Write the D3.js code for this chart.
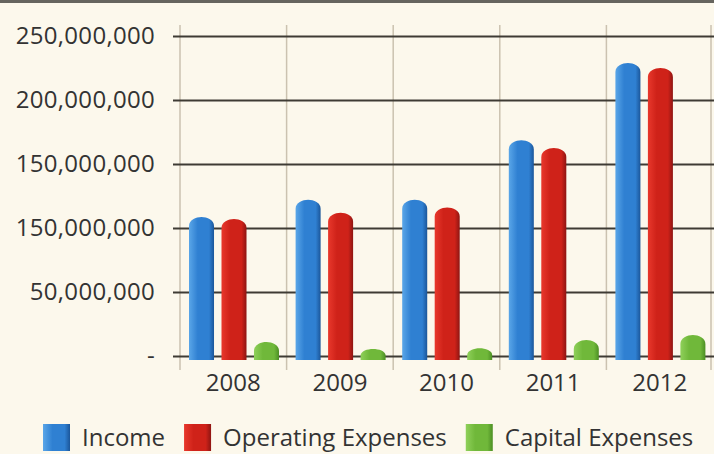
<!DOCTYPE html>
<html>
<head>
<meta charset="utf-8">
<script src="https://cdn.jsdelivr.net/npm/d3@7"></script>
<style>
  html, body { margin: 0; padding: 0; background: #fcf8ec; }
  svg { display: block; }
  text { font-family: "Open Sans", "Noto Sans", sans-serif; fill: #333; }
</style>
</head>
<body>
<svg id="chart" width="714" height="454"></svg>
<script>
const years = ["2008", "2009", "2010", "2011", "2012"];
const seriesNames = ["Income", "Operating Expenses", "Capital Expenses"];
const income = [108.5e6, 122e6, 122e6, 168.5e6, 229e6];
const operatingExpenses = [107e6, 112e6, 116e6, 162.5e6, 225e6];
const capitalExpenses = [11e6, 5.5e6, 6e6, 12.5e6, 16.5e6];
const tickValues = [0, 50e6, 100e6, 150e6, 200e6, 250e6];
const tickLabels = ["-", "50,000,000", "150,000,000", "150,000,000", "200,000,000", "250,000,000"];

const seriesValues = [income, operatingExpenses, capitalExpenses];
const palette = [
  ["#5aa6e8", "#2f80d2", "#1b569a"],
  ["#e8382c", "#cf2219", "#8e1512"],
  ["#8fd05a", "#70b83a", "#4c8f24"]
];

const W = 714, H = 454;
const svg = d3.select("#chart");

svg.append("rect").attr("width", W).attr("height", H).attr("fill", "#fcf8ec");
svg.append("line").attr("x1", 0).attr("x2", W).attr("y1", 1.5).attr("y2", 1.5)
  .attr("stroke", "#66655f").attr("stroke-width", 3);

const defs = svg.append("defs");
palette.forEach((c, i) => {
  const g = defs.append("linearGradient").attr("id", "grad" + i)
    .attr("x1", "0%").attr("x2", "100%").attr("y1", "0%").attr("y2", "0%");
  g.append("stop").attr("offset", "0%").attr("stop-color", c[0]);
  g.append("stop").attr("offset", "35%").attr("stop-color", c[1]);
  g.append("stop").attr("offset", "80%").attr("stop-color", c[1]);
  g.append("stop").attr("offset", "100%").attr("stop-color", c[2]);
});

const y = d3.scaleLinear().domain([0, 250e6]).range([356, 36]);
const x0 = d3.scaleBand().domain(years).range([180, 713]).paddingInner(0).paddingOuter(0);
const x1 = d3.scaleBand().domain(seriesNames).range([9, 99]).paddingInner(0.23).paddingOuter(0);

// vertical grid lines
const vx = years.map(d => x0(d)).concat([x0.range()[1] - 2]);
svg.append("g").selectAll("line").data(vx).join("line")
  .attr("x1", d => d).attr("x2", d => d)
  .attr("y1", 25).attr("y2", 370)
  .attr("stroke", "#cbc2b0").attr("stroke-width", 1.5);

// horizontal grid lines + y labels via axis
const yAxis = d3.axisLeft(y).tickValues(tickValues)
  .tickFormat((d, i) => tickLabels[i]).tickSize(-(W - 173)).tickPadding(18);
const gy = svg.append("g").attr("transform", "translate(173,0)").call(yAxis);
gy.select(".domain").remove();
gy.selectAll(".tick line").attr("stroke", "#3e3b34").attr("stroke-width", 2);
gy.selectAll(".tick text").attr("font-size", 24).attr("fill", "#333")
  .style("font-family", "'Open Sans', sans-serif").attr("letter-spacing", 0.3);

// bars
function barPath(xl, w, yt, yb) {
  const cap = Math.min(9, (yb - yt) * 0.6);
  const r = w / 2;
  return `M${xl},${yb} L${xl},${yt + cap} ` +
    `C${xl},${yt + cap * 0.3} ${xl + r * 0.55},${yt} ${xl + r},${yt} ` +
    `C${xl + w - r * 0.55},${yt} ${xl + w},${yt + cap * 0.3} ${xl + w},${yt + cap} ` +
    `L${xl + w},${yb} Z`;
}

const groups = svg.append("g").selectAll("g").data(years).join("g")
  .attr("transform", d => `translate(${x0(d)},0)`);
groups.selectAll("path").data((d, i) => seriesNames.map((s, k) => ({ s, k, v: seriesValues[k][i] })))
  .join("path")
  .attr("d", d => barPath(x1(d.s), x1.bandwidth(), y(d.v), y(0) + 4))
  .attr("fill", d => `url(#grad${d.k})`);

// x labels via axis
const xAxis = d3.axisBottom(x0).tickSize(0).tickPadding(18);
const gx = svg.append("g").attr("transform", "translate(0,356)").call(xAxis);
gx.select(".domain").remove();
gx.selectAll(".tick text").attr("font-size", 24).attr("fill", "#333")
  .style("font-family", "'Open Sans', sans-serif");

// legend
const leg = svg.append("g");
let lx = 43;
seriesNames.forEach((s, k) => {
  leg.append("rect").attr("x", lx).attr("y", 424).attr("width", 27).attr("height", 27)
    .attr("fill", `url(#grad${k})`);
  const t = leg.append("text").attr("x", lx + 39).attr("y", 446).attr("font-size", 24).text(s);
  lx += 39 + t.node().getComputedTextLength() + 19;
});
</script>
</body>
</html>
